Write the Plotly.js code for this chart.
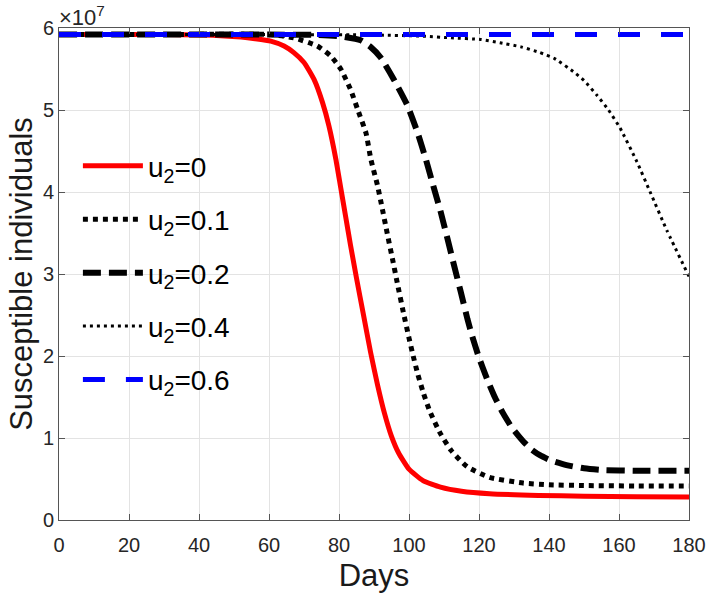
<!DOCTYPE html>
<html>
<head>
<meta charset="utf-8">
<script src="https://cdn.plot.ly/plotly-3.0.1.min.js"></script>
<style>html,body{margin:0;padding:0;background:#fff;}#chart{width:708px;height:593px;}</style>
</head>
<body>
<div id="chart"></div>
<script>
// ---- data ----
var seriesNames = ['u<sub>2</sub>=0', 'u<sub>2</sub>=0.1', 'u<sub>2</sub>=0.2', 'u<sub>2</sub>=0.4', 'u<sub>2</sub>=0.6'];

var daysU0 = [0, 30, 45, 52, 56, 60.5, 64.3, 67.1, 70, 72.9, 75.3, 77.1, 79.1, 80.5, 81.9, 83.3, 85, 87, 89, 91, 93, 95, 97, 100, 104, 109, 115, 123, 137, 150, 165, 180];
var susU0 = [5.92e7, 5.92e7, 5.91e7, 5.89e7, 5.87e7, 5.84e7, 5.78e7, 5.70e7, 5.58e7, 5.37e7, 5.09e7, 4.81e7, 4.40e7, 4.05e7, 3.70e7, 3.35e7, 2.95e7, 2.50e7, 2.05e7, 1.65e7, 1.30e7, 1.02e7, 0.82e7, 0.62e7, 0.48e7, 0.40e7, 0.35e7, 0.32e7, 0.30e7, 0.29e7, 0.285e7, 0.28e7];

var daysU01 = [0, 30, 60.5, 67.1, 73.8, 77.6, 80.5, 83.3, 85.3, 87.7, 89.1, 91, 92.4, 93.8, 95.3, 96.7, 98.6, 100, 101.2, 102.5, 104.1, 106, 108.9, 112, 116.6, 123, 132.6, 140, 150, 165, 180];
var susU01 = [5.92e7, 5.92e7, 5.92e7, 5.88e7, 5.78e7, 5.66e7, 5.50e7, 5.25e7, 5.01e7, 4.72e7, 4.40e7, 4.08e7, 3.79e7, 3.49e7, 3.18e7, 2.88e7, 2.49e7, 2.22e7, 2.00e7, 1.78e7, 1.55e7, 1.32e7, 1.06e7, 0.85e7, 0.65e7, 0.52e7, 0.45e7, 0.43e7, 0.42e7, 0.415e7, 0.415e7];

var daysU02 = [0, 60, 73.8, 80, 86.2, 89, 91.9, 95.7, 99.5, 102.4, 104.8, 107.1, 109.1, 111, 112.9, 114.8, 116.7, 118, 120, 122.3, 124.5, 126.9, 129.5, 132.6, 135, 137.4, 140.3, 145, 150, 155, 165, 180];
var susU02 = [5.92e7, 5.92e7, 5.915e7, 5.90e7, 5.85e7, 5.77e7, 5.64e7, 5.37e7, 5.06e7, 4.73e7, 4.40e7, 4.05e7, 3.75e7, 3.43e7, 3.10e7, 2.78e7, 2.45e7, 2.25e7, 1.98e7, 1.72e7, 1.50e7, 1.30e7, 1.12e7, 0.96e7, 0.86e7, 0.79e7, 0.73e7, 0.67e7, 0.63e7, 0.61e7, 0.60e7, 0.60e7];

var daysU04 = [0, 60, 90, 104, 112, 120.5, 126, 132, 137.4, 141.5, 146.9, 150, 153.7, 157, 160.3, 165.1, 168.9, 173.7, 180];
var susU04 = [5.92e7, 5.92e7, 5.915e7, 5.90e7, 5.88e7, 5.86e7, 5.82e7, 5.77e7, 5.70e7, 5.63e7, 5.47e7, 5.36e7, 5.18e7, 5.00e7, 4.78e7, 4.37e7, 4.00e7, 3.53e7, 2.97e7];

var daysU06 = [0, 180];
var susU06 = [5.92e7, 5.92e7];

var xTickVals = [0, 20, 40, 60, 80, 100, 120, 140, 160, 180];
var yTickVals = [0, 1e7, 2e7, 3e7, 4e7, 5e7, 6e7];
var yTickText = ['0', '1', '2', '3', '4', '5', '6'];

// ---- chart ----
var FONT = '"Liberation Sans", Arial, Helvetica, sans-serif';

function tr(x, y, name, color, width, dash, grp) {
  return {
    x: x, y: y, name: name, type: 'scatter', mode: 'lines',
    line: {color: color, width: width, dash: dash, shape: 'spline', smoothing: 0.5},
    legendgroup: grp
  };
}

var data = [
  tr(daysU0, susU0, seriesNames[0], '#ff0000', 5, 'solid', 'a'),
  tr(daysU01, susU01, seriesNames[1], '#000000', 5, 'dot', 'b'),
  tr(daysU02, susU02, seriesNames[2], '#000000', 6, '18px,8px', 'c'),
  tr(daysU04, susU04, seriesNames[3], '#000000', 3, '3px,4px', 'd'),
  tr(daysU06, susU06, seriesNames[4], '#0000ff', 5, '22px,21px', 'e')
];

var axisCommon = {
  showline: true, mirror: 'ticks', linecolor: '#555555', linewidth: 1,
  ticks: 'inside', ticklen: 6, tickcolor: '#555555', tickwidth: 1,
  showgrid: true, gridcolor: '#e3e3e3', gridwidth: 1,
  zeroline: false,
  tickfont: {family: FONT, size: 20, color: '#262626'}
};

var layout = {
  width: 708, height: 593,
  margin: {l: 59, r: 19, t: 28, b: 73},
  paper_bgcolor: '#ffffff', plot_bgcolor: '#ffffff',
  font: {family: FONT, color: '#1a1a1a'},
  showlegend: true,
  legend: {
    x: 0.03, y: 0.77, xanchor: 'left', yanchor: 'top',
    bgcolor: 'rgba(0,0,0,0)', borderwidth: 0,
    font: {family: FONT, size: 28, color: '#000000'},
    itemwidth: 60, tracegroupgap: 14, traceorder: 'grouped'
  },
  xaxis: Object.assign({}, axisCommon, {
    range: [0, 180], tickmode: 'array', tickvals: xTickVals, ticklabelstandoff: 7,
    title: {text: 'Days', font: {family: FONT, size: 31, color: '#1a1a1a'}, standoff: 11}
  }),
  yaxis: Object.assign({}, axisCommon, {
    range: [0, 6e7], tickmode: 'array', tickvals: yTickVals, ticktext: yTickText,
    title: {text: 'Susceptible individuals', font: {family: FONT, size: 31, color: '#1a1a1a'}, standoff: 1}
  }),
  annotations: [{
    xref: 'paper', yref: 'paper', x: 0, y: 1, xanchor: 'left', yanchor: 'bottom',
    text: '×10<sup>7</sup>', showarrow: false,
    font: {family: FONT, size: 22, color: '#262626'}, xshift: -2, yshift: -4
  }]
};

Plotly.newPlot('chart', data, layout, {staticPlot: true, displayModeBar: false});
</script>
</body>
</html>
